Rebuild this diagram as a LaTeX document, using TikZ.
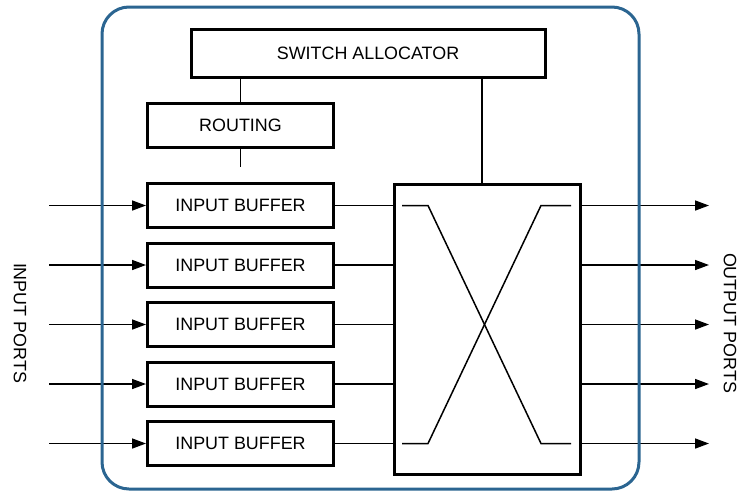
\documentclass[tikz,border=0pt]{standalone}
\usepackage{fontspec}
\setmainfont{Liberation Sans}
\usetikzlibrary{arrows.meta}
\definecolor{framebl}{RGB}{43,101,145}
\begin{document}
\begin{tikzpicture}[x=1pt,y=-1pt,
  blk/.style={draw,line width=3pt,inner sep=0pt,font=\fontsize{17.9}{20}\selectfont},
  wire/.style={line width=1.5pt},
  sig/.style={wire,-{Triangle[length=14pt,width=10pt]}},
  lbl/.style={font=\fontsize{17.9}{20}\selectfont,rotate=-90,inner sep=0pt}]
\useasboundingbox (0,0) rectangle (739,491);

% control blocks
\node[blk,minimum width=354pt,minimum height=48pt] (sa) at (368,53.5) {SWITCH ALLOCATOR};
\node[blk,minimum width=186pt,minimum height=44.5pt] (rt) at (240.5,125.5) {ROUTING};

% crossbar switch
\node[draw,line width=3pt,inner sep=0pt,minimum width=186pt,minimum height=290pt] (xb) at (487,329) {};
\draw[wire] (402,205.5) -- (428,205.5) -- (541,443.5) -- (571,443.5);
\draw[wire] (402,443.5) -- (428,443.5) -- (541,205.5) -- (571,205.5);

% control wiring
\coordinate (stub) at (240.5,167);
\coordinate (tap) at (482,0);
\draw[wire] (rt.north) -- (rt.north |- sa.south);
\draw[wire] (rt.south) -- (stub);
\draw[wire] (sa.south -| tap) -- (xb.north -| tap);

% input buffers, ports and datapath
\foreach \i in {1,...,5}{
  \pgfmathsetmacro{\yy}{205.5+59.5*(\i-1)}
  \node[blk,minimum width=186pt,minimum height=44pt] (ib\i) at (240.5,\yy) {INPUT BUFFER};
  \coordinate (in\i) at (49,\yy);
  \coordinate (out\i) at (709,\yy);
  \draw[sig] (in\i) -- (ib\i.west);
  \draw[wire] (ib\i.east) -- (ib\i.east -| xb.west);
  \draw[sig] (xb.east |- out\i) -- (out\i);
}

% router boundary
\draw[framebl,line width=3pt,rounded corners=27pt] (102,7) rectangle (639,489);

% port labels
\node[lbl] (inp) at (20,323) {INPUT PORTS};
\node[lbl] (outp) at (730,323) {OUTPUT PORTS};
\end{tikzpicture}
\end{document}
